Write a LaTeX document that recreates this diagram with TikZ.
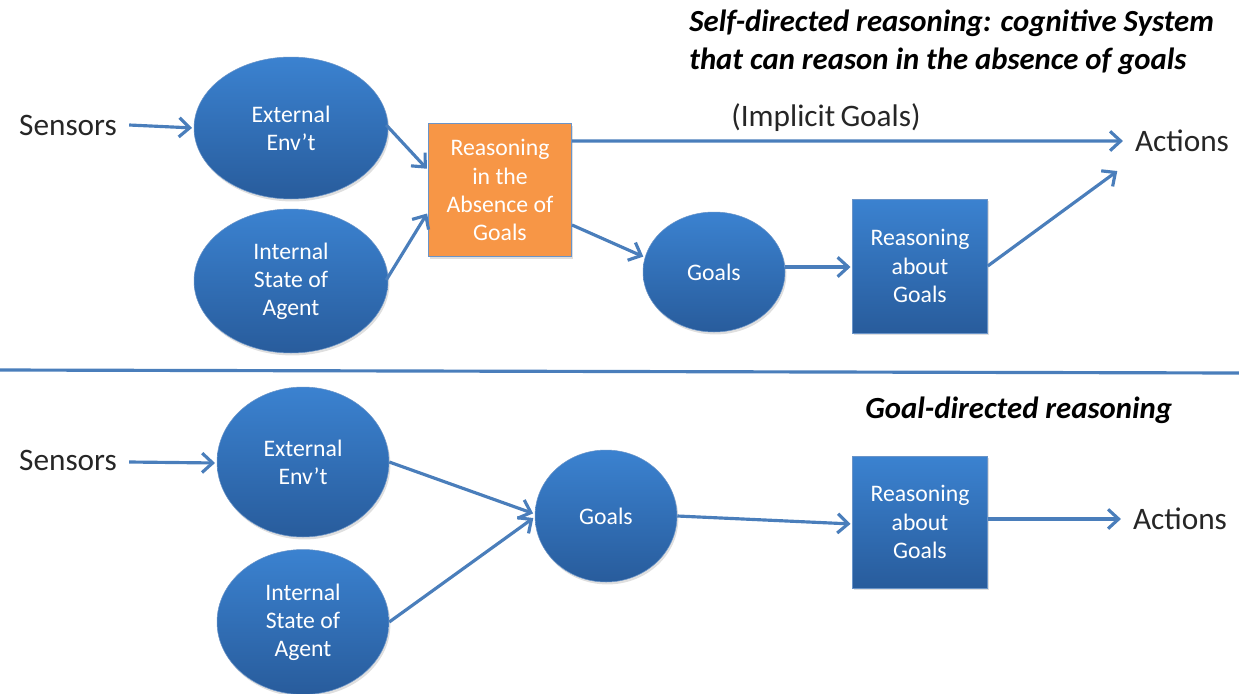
\documentclass[tikz,border=0pt]{standalone}
\usepackage{fontspec}
\setmainfont{Carlito}
\usetikzlibrary{arrows.meta,shapes.geometric,shadows,calc}
\definecolor{linkblue}{HTML}{4A7EBB}
\definecolor{fillTop}{HTML}{3B82D0}
\definecolor{fillBot}{HTML}{285C9C}
\definecolor{orangeFill}{HTML}{F79646}
\definecolor{edgeBlue}{HTML}{6A94C8}
\definecolor{labelGray}{HTML}{262626}

\begin{document}
\begin{tikzpicture}[x=0.02cm,y=-0.02cm,
  shadowed/.style={drop shadow={opacity=0.25,shadow xshift=0.8pt,shadow yshift=-1.4pt}},
  nodetext/.style={text=white, font=\fontsize{13.5}{16}\selectfont, align=center, inner sep=0pt},
  blob/.style={ellipse, top color=fillTop, bottom color=fillBot, draw=edgeBlue, line width=0.3pt, nodetext, shadowed},
  bluebox/.style={rectangle, top color=fillTop, bottom color=fillBot, draw=edgeBlue, line width=0.3pt, nodetext, shadowed},
  orangebox/.style={rectangle, fill=orangeFill, draw=edgeBlue, line width=0.6pt, nodetext, shadowed},
  label/.style={font=\fontsize{17.8}{20}\selectfont, text=labelGray, inner sep=0pt},
  heading/.style={font=\fontsize{17.5}{21.5}\selectfont\bfseries\itshape, text=black, inner sep=0pt, align=left},
  flow/.style={draw=linkblue, line width=1.8pt, -{Straight Barb[length=6pt,width=11pt,line width=1.8pt]}, shorten >=1pt}
]
\useasboundingbox (0,0) rectangle (1239,693);

% ---------- self-directed reasoning ----------
\node[heading, anchor=west] (title1) at (689,42) {Self-directed reasoning: cognitive System\\that can reason in the absence of goals};

\node[label] (sens1) at (68,125) {Sensors};
\node[blob, minimum width=3.88cm, minimum height=2.84cm] (ext1) at (291,128) {External\\Env’t};
\node[blob, minimum width=3.88cm, minimum height=2.88cm] (int1) at (291,281) {Internal\\State of\\Agent};
\node[orangebox, minimum width=2.86cm, minimum height=2.66cm] (rag) at (500,190) {Reasoning\\in the\\Absence of\\Goals};
\node[blob, minimum width=2.84cm, minimum height=2.4cm] (goals1) at (714,272) {Goals};
\node[bluebox, minimum width=2.7cm, minimum height=2.68cm] (rbox1) at (920,266) {Reasoning\\about\\Goals};
\node[label] (act1) at (1182,141) {Actions};
\node[label] (implicit) at (826,118) {(Implicit\,Goals)};

\draw[flow] ($(sens1.east)+(12,0)$) -- (ext1.west);
\draw[flow] ($(ext1.east)+(-2,-3)$) -- ($(rag.west)+(0,-20)$);
\draw[flow] ($(int1.east)+(-2,-1)$) -- ($(rag.west)+(0,22)$);
\draw[flow] ($(rag.north east)+(0,18)$) -- ($(act1.west)+(-10,0)$);
\draw[flow] ($(rag.east)+(0,35)$) -- (goals1.168);
\draw[flow] ($(goals1.east)+(0,-5)$) -- ($(rbox1.west)+(0,1)$);
\draw[flow] (rbox1.east) -- ($(act1.west)+(-16,29)$);

% ---------- separator ----------
\draw[draw=linkblue, line width=1.8pt] (0,370) -- (1239,373);

% ---------- goal-directed reasoning ----------
\node[heading, anchor=west] (title2) at (865,410) {Goal-directed reasoning};

\node[label] (sens2) at (68,460) {Sensors};
\node[blob, minimum width=3.44cm, minimum height=3.0cm] (ext2) at (303,462) {External\\Env’t};
\node[blob, minimum width=3.44cm, minimum height=2.9cm] (int2) at (303,622) {Internal\\State of\\Agent};
\node[blob, minimum width=2.84cm, minimum height=2.64cm] (goals2) at (606,516) {Goals};
\node[bluebox, minimum width=2.7cm, minimum height=2.64cm] (rbox2) at (920,522) {Reasoning\\about\\Goals};
\node[label] (act2) at (1180,519) {Actions};

\draw[flow] ($(sens2.east)+(12,2)$) -- ($(ext2.west)+(0,1)$);
\draw[flow] (ext2.east) -- ($(goals2.west)+(0,-2)$);
\draw[flow] (int2.east) -- ($(goals2.west)+(0,1)$);
\draw[flow] (goals2.east) -- ($(rbox2.west)+(0,2)$);
\draw[flow] ($(rbox2.east)+(0,-3)$) -- ($(act2.west)+(-10,0)$);
\end{tikzpicture}
\end{document}
